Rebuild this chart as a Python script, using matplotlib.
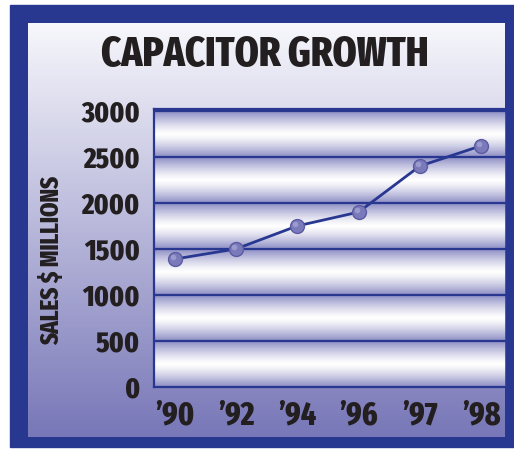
import matplotlib
matplotlib.use("Agg")
import matplotlib.pyplot as plt
from matplotlib.patches import Rectangle
from matplotlib.colors import to_rgb
import numpy as np

# datos
anios = ["\u201990", "\u201992", "\u201994", "\u201996", "\u201997", "\u201998"]
ventas = [1390, 1500, 1750, 1900, 2400, 2620]
ticks_y = [0, 500, 1000, 1500, 2000, 2500, 3000]

azul = "#283891"
fuente = ["Fira Sans Extra Condensed", "DejaVu Sans"]
peso = 800

W, H = 514, 450
fig = plt.figure(figsize=(W / 100, H / 100), dpi=100)
fig.patch.set_facecolor("white")

# fondo: marco azul y panel con degradado
fondo = fig.add_axes([0, 0, 1, 1])
fondo.set_xlim(0, W)
fondo.set_ylim(H, 0)
fondo.axis("off")
fondo.add_patch(Rectangle((10, 5), W - 10, 442, color=azul, zorder=0))
arriba = np.array(to_rgb("#f7f7fc"))
abajo = np.array(to_rgb("#7877b8"))
t = np.linspace(0, 1, 256)[:, None]
grad = (arriba * (1 - t) + abajo * t)[:, None, :]
grad = np.repeat(grad, 2, axis=1)
fondo.imshow(grad, extent=(28, 505, 437, 23), aspect="auto", zorder=1)

# area del grafico
ax = fig.add_axes([154 / W, 63 / H, 354 / W, 278 / H])
ymax = 3020
n = len(anios)
ax.set_xlim(-0.34, n - 1 + 0.44)
ax.set_ylim(0, ymax)

# bandas con brillo entre lineas
yy = np.linspace(0, ymax, 600)
d = (yy % 500) / 500.0
k = np.abs(d - 0.5) * 2
k = k ** 1.3
claro = np.array(to_rgb("#ffffff"))
oscuro = np.array(to_rgb("#8c8cc4"))
bandas = (claro * (1 - k[:, None]) + oscuro * k[:, None])[:, None, :]
bandas = np.repeat(bandas, 2, axis=1)
ax.imshow(bandas, extent=(-0.34, n - 1 + 0.44, 0, ymax), origin="lower",
          aspect="auto", zorder=0)

for v in ticks_y[1:]:
    ax.axhline(v, color=azul, lw=1.6, zorder=1)

x = np.arange(n)
ax.plot(x, ventas, color=azul, lw=2, zorder=3)
ax.plot(x, ventas, "o", ms=10, mfc="#7a7abb", mec="#5b5ba2", mew=1, zorder=4)
ax.plot(x - 0.03, np.array(ventas) + 25, "o", ms=4, mfc="#a9a9d6", mec="none",
        alpha=0.7, zorder=5)

for s in ax.spines.values():
    s.set_color(azul)
    s.set_linewidth(1.6)
ax.spines["right"].set_linewidth(4)

ax.set_xticks(x)
ax.set_xticklabels(anios)
ax.set_yticks(ticks_y)
ax.tick_params(length=0)
ax.tick_params(axis="y", pad=10)
ax.tick_params(axis="x", pad=9)
for lab in ax.get_xticklabels():
    lab.set_family(fuente)
    lab.set_fontweight(peso)
    lab.set_fontsize(23)
    lab.set_color("#231f20")
for lab in ax.get_yticklabels():
    lab.set_family(fuente)
    lab.set_fontweight(peso)
    lab.set_fontsize(21)
    lab.set_color("#231f20")

fig.text(265 / W, 1 - 55 / H, "CAPACITOR GROWTH", family=fuente, fontweight=peso,
         fontsize=30, color="#231f20", ha="center", va="center")
fig.text(52 / W, 1 - 260 / H, "SALES $ MILLIONS", family=fuente, fontweight=peso,
         fontsize=18, color="#231f20", ha="center", va="center", rotation=90)

fig.savefig("out.png", dpi=100)
